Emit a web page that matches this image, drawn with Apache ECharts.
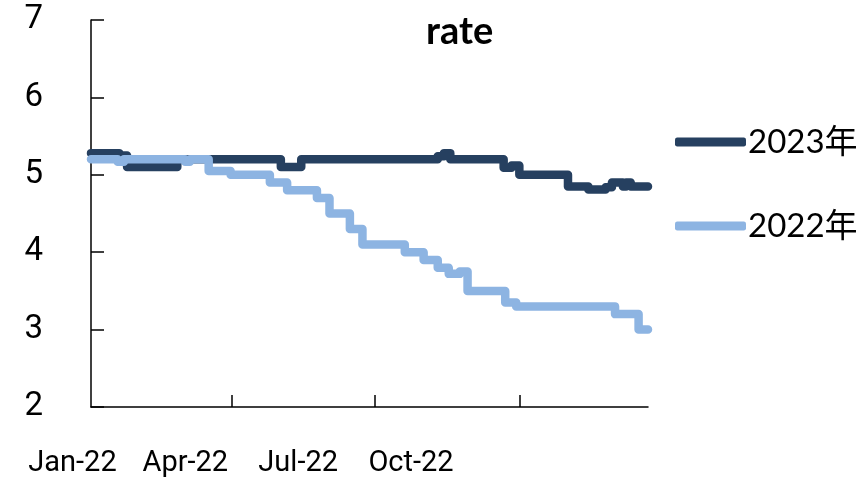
<!DOCTYPE html>
<html>
<head>
<meta charset="utf-8">
<script src="https://cdn.jsdelivr.net/npm/echarts@6/dist/echarts.min.js"></script>
<style>html,body{margin:0;padding:0;background:#fff;}#c{width:868px;height:478px;}</style>
</head>
<body>
<div id="c"></div>
<script>
// ---- data ----
const seriesNames = ['2023年', '2022年'];
const xLabels = ['Jan-22', 'Apr-22', 'Jul-22', 'Oct-22'];
const yTicks = [2, 3, 4, 5, 6, 7];
const tickDates = ['2022-04-01', '2022-07-01', '2022-10-01'];
const axisStart = '2022-01-01';
const axisEnd = '2022-12-22';

const dates2023 = ['2022-01-01','2022-01-19','2022-01-24','2022-02-25','2022-05-02','2022-05-15','2022-08-10','2022-08-14','2022-08-18','2022-09-21','2022-09-26','2022-10-01','2022-11-01','2022-11-14','2022-11-25','2022-11-29','2022-12-06','2022-12-08','2022-12-11','2022-12-22'];
const values2023 = [5.28, 5.25, 5.1, 5.2, 5.1, 5.2, 5.24, 5.28, 5.2, 5.09, 5.12, 5.0, 4.85, 4.81, 4.84, 4.9, 4.85, 4.9, 4.85, 4.85];

const dates2022 = ['2022-01-01','2022-01-18','2022-01-22','2022-03-02','2022-03-05','2022-03-17','2022-03-31','2022-04-25','2022-05-06','2022-05-25','2022-06-02','2022-06-15','2022-06-23','2022-07-20','2022-08-01','2022-08-10','2022-08-17','2022-08-24','2022-08-29','2022-09-22','2022-09-29','2022-12-01','2022-12-16','2022-12-22'];
const values2022 = [5.2, 5.17, 5.2, 5.17, 5.2, 5.05, 5.0, 4.9, 4.8, 4.7, 4.5, 4.3, 4.1, 4.0, 3.9, 3.8, 3.72, 3.75, 3.5, 3.35, 3.3, 3.2, 3.0, 3.0];

// ---- helpers ----
function ts(s) { const p = s.split('-').map(Number); return new Date(p[0], p[1] - 1, p[2]).getTime(); }
function pairs(d, v) { return d.map((x, i) => [ts(x), v[i]]); }

const axisFont = '"Liberation Sans Narrow", "Arial Narrow", Roboto, sans-serif';
const legendFont = 'Lato, "Noto Sans CJK SC", sans-serif';

const chart = echarts.init(document.getElementById('c'), null, { renderer: 'canvas' });
chart.setOption({
  animation: false,
  backgroundColor: '#ffffff',
  title: {
    text: 'rate',
    left: 421,
    top: 8,
    textStyle: { fontFamily: 'Lato, sans-serif', fontWeight: 'bold', fontSize: 38, color: '#000' }
  },
  legend: {
    orient: 'vertical',
    left: 670,
    top: 117,
    itemWidth: 71,
    itemHeight: 9,
    itemGap: 44,
    icon: 'roundRect',
    data: seriesNames,
    textStyle: { fontFamily: legendFont, fontSize: 33, color: '#000', lineHeight: 40, padding: [0, 0, 0, -3] }
  },
  grid: [
    { left: 91, right: 220, top: 20, bottom: 71 },
    { left: 72.5, right: 457, top: 20, bottom: 71 }
  ],
  xAxis: [
    {
      type: 'time',
      gridIndex: 0,
      min: ts(axisStart),
      max: ts(axisEnd),
      axisLine: { show: true, onZero: false, lineStyle: { color: '#000', width: 1.5 } },
      axisTick: { show: true, inside: true, length: 12, lineStyle: { color: '#000', width: 1.5 }, customValues: tickDates.map(ts) },
      axisLabel: { show: false },
      splitLine: { show: false }
    },
    {
      type: 'category',
      gridIndex: 1,
      data: xLabels,
      boundaryGap: false,
      axisLine: { show: false },
      axisTick: { show: false },
      axisLabel: { show: true, margin: 48, fontFamily: axisFont, fontSize: 29, color: '#000', interval: 0 },
      splitLine: { show: false }
    }
  ],
  yAxis: [
    {
      type: 'value',
      gridIndex: 0,
      min: yTicks[0],
      max: yTicks[yTicks.length - 1],
      interval: 1,
      axisLine: { show: true, lineStyle: { color: '#000', width: 1.5 } },
      axisTick: { show: true, inside: true, length: 13, lineStyle: { color: '#000', width: 1.5 } },
      axisLabel: { margin: 48, fontFamily: axisFont, fontSize: 33, color: '#000' },
      splitLine: { show: false }
    },
    { type: 'value', gridIndex: 1, show: false, min: 0, max: 1 }
  ],
  series: [
    {
      name: seriesNames[0],
      type: 'line',
      xAxisIndex: 0, yAxisIndex: 0,
      step: 'end',
      symbol: 'none',
      data: pairs(dates2023, values2023),
      itemStyle: { color: '#264060' },
      lineStyle: { color: '#264060', width: 8.5, cap: 'round', join: 'round' },
      z: 2
    },
    {
      name: seriesNames[1],
      type: 'line',
      xAxisIndex: 0, yAxisIndex: 0,
      step: 'end',
      symbol: 'none',
      data: pairs(dates2022, values2022),
      itemStyle: { color: '#8DB4E2' },
      lineStyle: { color: '#8DB4E2', width: 8.5, cap: 'round', join: 'round' },
      z: 3
    }
  ]
});
</script>
</body>
</html>
